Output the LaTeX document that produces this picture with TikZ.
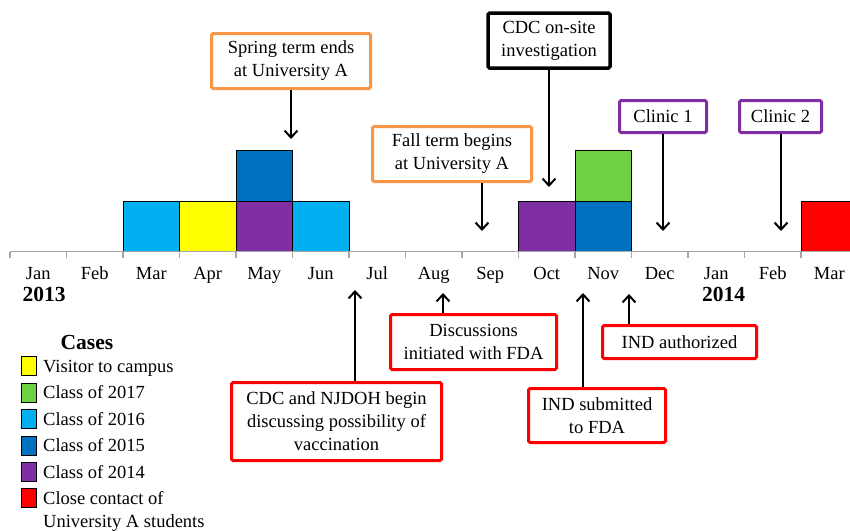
\documentclass[tikz,border=0pt]{standalone}
\usepackage{fontspec}
\setmainfont{LiberationSerif}[Extension=.ttf, UprightFont=*-Regular, BoldFont=*-Bold, ItalicFont=*-Italic, BoldItalicFont=*-BoldItalic]
\usetikzlibrary{arrows.meta}
\definecolor{lblue}{HTML}{00B0F0}
\definecolor{dblue}{HTML}{0070C0}
\definecolor{cpurple}{HTML}{7F2FA3}
\definecolor{cgreen}{HTML}{6FD144}
\definecolor{cyellow}{HTML}{FFFF00}
\definecolor{cred}{HTML}{FF0000}
\definecolor{corange}{HTML}{F79646}
\definecolor{axgray}{HTML}{A6A6A6}
\begin{document}
\begin{tikzpicture}[x=1pt,y=-1pt,
  txt/.style={font=\fontsize{18.5}{23}\selectfont, inner sep=0pt},
  yr/.style={font=\fontsize{21.5}{24}\selectfont\bfseries, inner sep=0pt, anchor=base},
  mon/.style={font=\fontsize{18.5}{23}\selectfont, inner sep=0pt, anchor=base},
  evbox/.style={draw, line width=3pt, rounded corners=1.5pt, align=center, inner sep=0pt,
     font=\fontsize{18.5}{23}\selectfont, fill=white},
  redbox/.style={evbox, draw=cred},
  orbox/.style={evbox, draw=corange},
  blkbox/.style={evbox, draw=black, line width=3.5pt},
  pubox/.style={evbox, draw=cpurple},
  arr/.style={line width=2pt, -{Straight Barb[length=7pt,width=13pt,line width=2pt]}},
  bar/.style={draw=black, line width=0.8pt},
  sw/.style={draw=black, line width=0.8pt, minimum width=15pt, minimum height=19pt, inner sep=0pt}
]
\useasboundingbox (0,0) rectangle (850,530);

% bars
\path[bar, fill=lblue] (123,251) rectangle (179.5,201);
\path[bar, fill=cyellow] (179.5,251) rectangle (236,201);
\path[bar, fill=cpurple] (236,251) rectangle (292.5,201);
\path[bar, fill=dblue] (236,201) rectangle (292.5,150.5);
\path[bar, fill=lblue] (292.5,251) rectangle (349,201);
\path[bar, fill=cpurple] (518.5,251) rectangle (575,201);
\path[bar, fill=dblue] (575,251) rectangle (631.5,201);
\path[bar, fill=cgreen] (575,201) rectangle (631.5,150.5);
\path[bar, fill=cred] (801,251) rectangle (852,201);

% axis
\draw[axgray, line width=1.5pt] (10,251.5) -- (850,251.5);
\foreach \i in {0,...,14} {
  \draw[axgray, line width=1.3pt] ({10+56.5*\i},251.5) -- ({10+56.5*\i},258);
}
\foreach \m [count=\i from 0] in {Jan,Feb,Mar,Apr,May,Jun,Jul,Aug,Sep,Oct,Nov,Dec,Jan,Feb,Mar} {
  \node[mon] (m\i) at ({38.25+56.5*\i},279) {\m};
}
\node[yr] (y13) at (44,301.5) {2013};
\node[yr] (y14) at (723.5,301.5) {2014};

% top boxes
\node[orbox, minimum width=159pt, minimum height=55pt] (spring) at (291,61) {Spring term ends\\at University A};
\node[orbox, minimum width=159pt, minimum height=55pt] (fall) at (452,154) {Fall term begins\\at University A};
\node[blkbox, minimum width=122pt, minimum height=55pt] (cdc) at (549,40.5) {CDC on-site\\investigation};
\node[pubox, minimum width=87pt, minimum height=32pt] (cl1) at (663,116.5) {Clinic 1};
\node[pubox, minimum width=82pt, minimum height=32pt] (cl2) at (780.5,116.5) {Clinic 2};

\coordinate (tspring) at (291,139);
\coordinate (tfall) at (482,231);
\coordinate (tcdc) at (549,187);
\coordinate (tcl1) at (663,231);
\coordinate (tcl2) at (781,231);
\draw[arr] (spring.south -| tspring) -- (tspring);
\draw[arr] (fall.south -| tfall) -- (tfall);
\draw[arr] (cdc.south -| tcdc) -- (tcdc);
\draw[arr] (cl1.south -| tcl1) -- (tcl1);
\draw[arr] (cl2.south -| tcl2) -- (tcl2);

% bottom boxes
\node[redbox, minimum width=210pt, minimum height=78pt] (njdoh) at (336.5,421.5) {CDC and NJDOH begin\\discussing possibility of\\vaccination};
\node[redbox, minimum width=166pt, minimum height=55pt] (fda) at (473.5,342) {Discussions\\initiated with FDA};
\node[redbox, minimum width=137pt, minimum height=54pt] (indsub) at (597,415.5) {IND submitted\\to FDA};
\node[redbox, minimum width=154pt, minimum height=33pt] (indauth) at (679.5,342) {IND authorized};

\coordinate (bnj) at (355,290);
\coordinate (bfda) at (443,293);
\coordinate (bsub) at (583,293);
\coordinate (bauth) at (629,294);
\draw[arr] (njdoh.north -| bnj) -- (bnj);
\draw[arr] (fda.north -| bfda) -- (bfda);
\draw[arr] (indsub.north -| bsub) -- (bsub);
\draw[arr] (indauth.north -| bauth) -- (bauth);

% legend
\node[yr, anchor=center] (cases) at (87,342) {Cases};
\node[sw, fill=cyellow] (s1) at (28.5,366) {};
\node[sw, fill=cgreen] (s2) at (28.5,392.5) {};
\node[sw, fill=lblue] (s3) at (28.5,419) {};
\node[sw, fill=dblue] (s4) at (28.5,445.5) {};
\node[sw, fill=cpurple] (s5) at (28.5,472) {};
\node[sw, fill=cred] (s6) at (28.5,498) {};
\node[txt, anchor=base west] (l1) at (43,372) {Visitor to campus};
\node[txt, anchor=base west] (l2) at (43,398.5) {Class of 2017};
\node[txt, anchor=base west] (l3) at (43,425) {Class of 2016};
\node[txt, anchor=base west] (l4) at (43,451.5) {Class of 2015};
\node[txt, anchor=base west] (l5) at (43,478) {Class of 2014};
\node[txt, anchor=north west, align=left] (l6) at (43,491) {Close contact of\\University A students};
\end{tikzpicture}
\end{document}
